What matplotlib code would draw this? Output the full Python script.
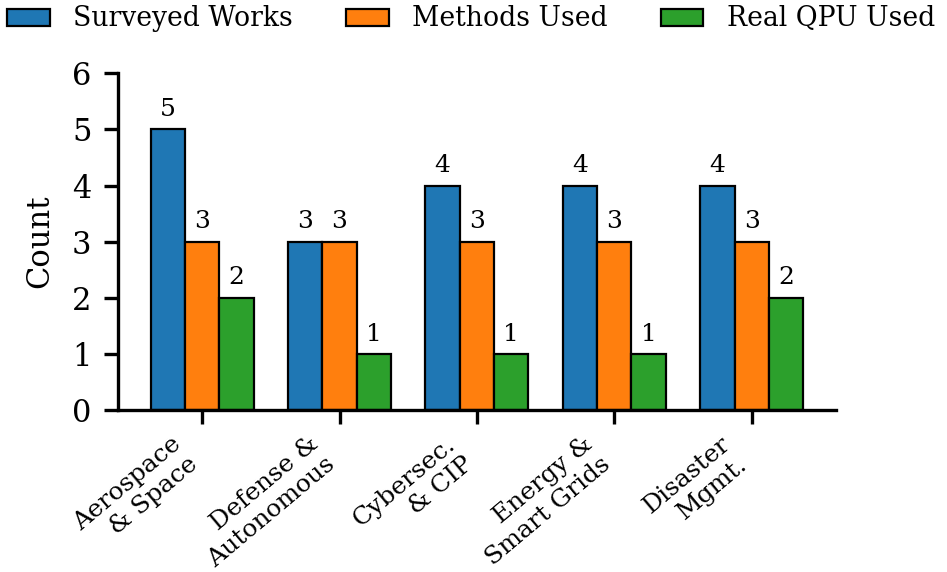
import matplotlib
matplotlib.use("Agg")
import matplotlib.pyplot as plt
import numpy as np

plt.rcParams['font.family'] = ['DejaVu Serif']

domains = ["Aerospace\n& Space", "Defense &\nAutonomous", "Cybersec.\n& CIP",
           "Energy &\nSmart Grids", "Disaster\nMgmt."]
surveyed = [5, 3, 4, 4, 4]
methods = [3, 3, 3, 3, 3]
real_qpu = [2, 1, 1, 1, 2]
series_names = ["Surveyed Works", "Methods Used", "Real QPU Used"]
colors = ["#1f77b4", "#ff7f0e", "#2ca02c"]

fig = plt.figure(figsize=(4.735, 2.86), dpi=200)
ax = fig.add_axes([0.1246, 0.283, 0.758, 0.589])

x = np.arange(len(domains))
w = 0.25
for i, (vals, name, c) in enumerate(zip([surveyed, methods, real_qpu], series_names, colors)):
    bars = ax.bar(x + (i - 1) * w, vals, w, color=c, edgecolor="black",
                  linewidth=0.8, label=name)
    ax.bar_label(bars, padding=3, fontsize=9)

ax.set_ylim(0, 6)
ax.set_yticks(range(7))
ax.set_ylabel("Count", fontsize=11, labelpad=6)
ax.set_xticks(x)
ax.set_xticklabels(domains, rotation=40, ha="right", fontsize=9.0)
ax.tick_params(axis="y", labelsize=11, width=1.2, length=5, pad=4.5)
ax.tick_params(axis="x", width=1.2, length=5, pad=3)
for s in ["top", "right"]:
    ax.spines[s].set_visible(False)
for s in ["left", "bottom"]:
    ax.spines[s].set_linewidth(1.2)

fig.legend(loc="center left", ncol=3, frameon=False, fontsize=9.6,
           bbox_to_anchor=(7 / 947, 1 - 19 / 572), borderpad=0,
           borderaxespad=0, handlelength=1.6, handleheight=0.6,
           handletextpad=0.87, columnspacing=2.0)

fig.savefig("out.png", dpi=200)
